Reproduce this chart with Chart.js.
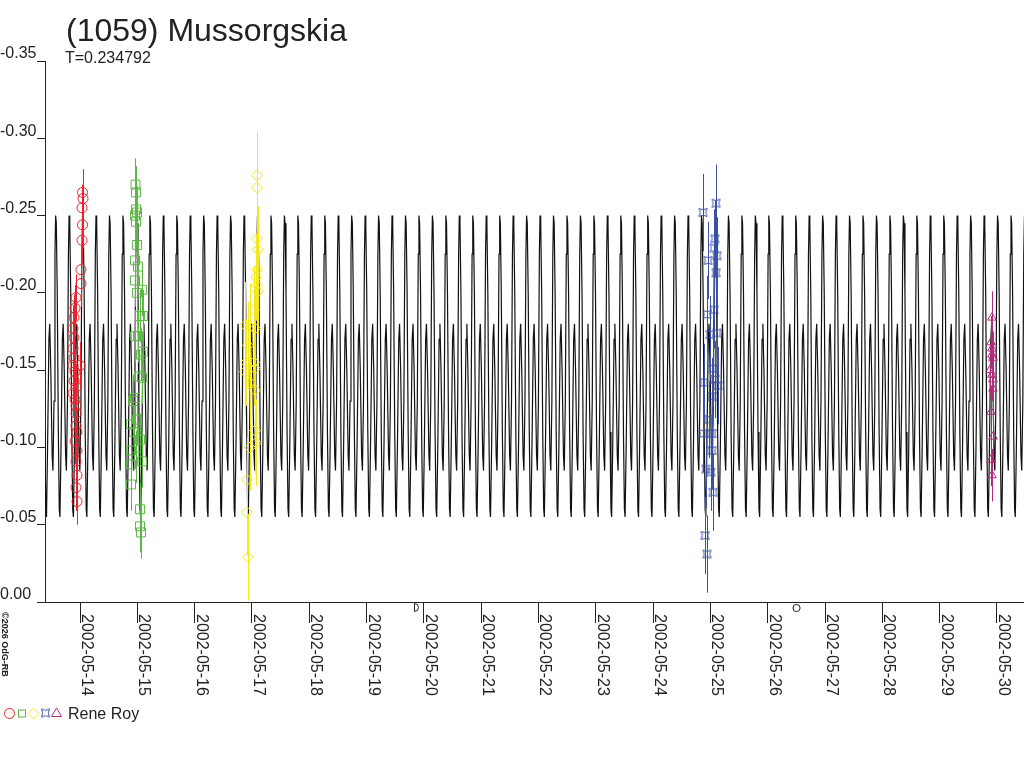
<!DOCTYPE html>
<html>
<head>
<meta charset="utf-8">
<title>(1059) Mussorgskia</title>
<script src="https://cdn.jsdelivr.net/npm/chart.js@4/dist/chart.umd.min.js"></script>
<style>
  html, body { margin: 0; padding: 0; background: #fff; }
  #wrap { width: 1024px; height: 768px; position: relative; }
</style>
</head>
<body>
<div id="wrap"><canvas id="lightcurve" width="1024" height="768"></canvas></div>
<script>
// time axis: days counted from 2002-05-14 0h UT
var dayTicks = [0, 1, 2, 3, 4, 5, 6, 7, 8, 9, 10, 11, 12, 13, 14, 15, 16];
var dateLabels = [
  "2002-05-14", "2002-05-15", "2002-05-16", "2002-05-17", "2002-05-18",
  "2002-05-19", "2002-05-20", "2002-05-21", "2002-05-22", "2002-05-23",
  "2002-05-24", "2002-05-25", "2002-05-26", "2002-05-27", "2002-05-28",
  "2002-05-29", "2002-05-30" ];
var dayMin = -0.611, dayMax = 16.472;

// moon phases (first quarter, full moon)
var moonDays = [5.82, 12.49];
var moonKinds = ["first", "full"];

// fitted curve: one rotation period, phase 0 = primary maximum
var period = 0.234792;
var epochDay = 7.088;
var cyclePhase = [0.00, 0.05, 0.12, 0.20, 0.27, 0.32, 0.40, 0.50, 0.56, 0.64, 0.74, 0.80, 0.88, 0.95];
var cycleMag   = [-0.250, -0.245, -0.200, -0.110, -0.060, -0.055, -0.100, -0.170, -0.180, -0.150, -0.095, -0.085, -0.130, -0.225];

// sessions (Rene Roy)
var redDays = [0.044, 0.052, 0.035, 0.044, 0.035, 0.017, 0.017, -0.070, -0.087, -0.105, -0.122, -0.105, -0.122, -0.105, -0.122, -0.087,
  0.000, -0.105, -0.070, -0.122, -0.087, -0.070, -0.070, -0.070, -0.052, -0.087, -0.052, -0.070, -0.052, -0.070, -0.052];
var redMags = [-0.265, -0.261, -0.255, -0.244, -0.234, -0.215, -0.206, -0.197, -0.190, -0.184, -0.177, -0.171, -0.164, -0.158, -0.153, -0.149,
  -0.153, -0.143, -0.139, -0.135, -0.131, -0.127, -0.122, -0.114, -0.110, -0.104, -0.098, -0.091, -0.082, -0.074, -0.065];

var greenDays = [0.968, 0.977, 0.977, 0.995, 0.960, 0.977, 0.995, 0.960, 1.012, 0.960, 0.995, 1.082, 1.047, 1.099, 0.960, 1.012, 1.064,
  1.099, 1.029, 1.082, 0.960, 0.925, 0.995, 0.890, 0.942, 1.047, 0.890, 0.977, 0.890, 1.082, 0.890, 1.047, 1.047, 1.064];
var greenMags = [-0.270, -0.265, -0.254, -0.252, -0.250, -0.246, -0.231, -0.221, -0.217, -0.208, -0.200, -0.202, -0.185, -0.185, -0.172, -0.172, -0.160,
  -0.162, -0.146, -0.145, -0.132, -0.130, -0.118, -0.115, -0.110, -0.105, -0.098, -0.094, -0.089, -0.091, -0.076, -0.060, -0.049, -0.045];

var yellowDays = [3.088, 3.088, 3.088, 3.106, 3.088, 3.071, 3.088, 3.106, 3.036, 2.879, 2.966, 3.054, 2.931, 2.897, 3.036, 2.879, 3.054,
  2.966, 3.054, 3.054, 2.966, 3.071, 2.914, 2.914, 2.931];
var yellowMags = [-0.276, -0.268, -0.235, -0.228, -0.215, -0.210, -0.205, -0.201, -0.189, -0.179, -0.178, -0.177, -0.166, -0.155, -0.155, -0.149, -0.151,
  -0.142, -0.137, -0.111, -0.100, -0.103, -0.079, -0.058, -0.029];

var blueDays = [11.098, 10.871, 11.080, 11.063, 11.115, 10.958, 11.098, 11.063, 10.940, 10.993, 11.115, 11.045, 11.080, 10.888, 11.132, 11.028,
  10.975, 10.871, 11.028, 11.028, 10.923, 11.010, 11.045, 10.906, 10.940];
var blueMags = [-0.258, -0.252, -0.235, -0.229, -0.224, -0.221, -0.213, -0.189, -0.186, -0.173, -0.174, -0.151, -0.144, -0.142, -0.140, -0.133,
  -0.118, -0.109, -0.109, -0.098, -0.086, -0.084, -0.071, -0.043, -0.031];

var magentaDays = [15.913, 15.896, 15.913, 15.913, 15.931, 15.878, 15.913, 15.931, 15.931, 15.896, 15.931, 15.896, 15.913];
var magentaMags = [-0.184, -0.168, -0.164, -0.160, -0.158, -0.150, -0.147, -0.144, -0.138, -0.123, -0.107, -0.092, -0.082];

var sessionErr = [0.015, 0.017, 0.028, 0.025, 0.017];

var FONT = "'Liberation Sans', Arial, sans-serif";
var INK = "#222222";

function toPoints(days, mags) {
  return days.map(function(d, i) { return { x: d, y: mags[i] }; });
}

// repeat the one-period profile across the plotted time span
function modelPoints() {
  var pts = [];
  var nFirst = Math.floor((dayMin - epochDay) / period) - 1;
  var nLast = Math.ceil((dayMax - epochDay) / period) + 1;
  for (var n = nFirst; n <= nLast; n++) {
    for (var k = 0; k < cyclePhase.length; k++) {
      pts.push({ x: epochDay + (n + cyclePhase[k]) * period, y: cycleMag[k] });
    }
  }
  return pts;
}

function crossedBox(color) {
  var c = document.createElement("canvas");
  c.width = 11; c.height = 11;
  var g = c.getContext("2d");
  g.strokeStyle = color;
  g.lineWidth = 1;
  g.beginPath();
  g.moveTo(1.5, 1.5);
  g.quadraticCurveTo(5.5, 4, 9.5, 1.5);
  g.quadraticCurveTo(7, 5.5, 9.5, 9.5);
  g.quadraticCurveTo(5.5, 7, 1.5, 9.5);
  g.quadraticCurveTo(4, 5.5, 1.5, 1.5);
  g.stroke();
  return c;
}

var colors = ["#e8232b", "#5cb845", "#f4e81c", "#3a52a4", "#b22a7c"];
var blueMark = crossedBox(colors[3]);

function session(days, mags, idx, style, radius) {
  return {
    data: toPoints(days, mags),
    errorSize: sessionErr[idx],
    showLine: false,
    pointStyle: style,
    pointRadius: radius,
    borderColor: colors[idx],
    backgroundColor: "rgba(0,0,0,0)",
    borderWidth: 1
  };
}

var errorBars = {
  id: "errorBars",
  beforeDatasetDraw: function(chart, args) {
    var ds = chart.data.datasets[args.index];
    if (!ds.errorSize) return;
    var ctx = chart.ctx, xs = chart.scales.x, ys = chart.scales.y, area = chart.chartArea;
    ctx.save();
    ctx.beginPath();
    ctx.rect(area.left, area.top, area.right - area.left, area.bottom - area.top);
    ctx.clip();
    ctx.strokeStyle = ds.borderColor;
    ctx.lineWidth = 1;
    ds.data.forEach(function(p) {
      var px = Math.round(xs.getPixelForValue(p.x)) + 0.5;
      ctx.beginPath();
      ctx.moveTo(px, ys.getPixelForValue(p.y - ds.errorSize));
      ctx.lineTo(px, ys.getPixelForValue(p.y + ds.errorSize));
      ctx.stroke();
    });
    ctx.restore();
  }
};

var decorations = {
  id: "decorations",
  afterDraw: function(chart) {
    var ctx = chart.ctx, xs = chart.scales.x;
    ctx.save();
    ctx.fillStyle = INK;
    ctx.strokeStyle = INK;

    // title
    ctx.textAlign = "left";
    ctx.textBaseline = "alphabetic";
    ctx.font = "32px " + FONT;
    ctx.fillText("(1059) Mussorgskia", 66, 41);
    ctx.font = "16px " + FONT;
    ctx.fillText("T=" + period, 65, 63);

    // date labels, rotated clockwise
    dayTicks.forEach(function(d, i) {
      var px = Math.round(xs.getPixelForValue(d));
      ctx.save();
      ctx.translate(px + 1.5, 614);
      ctx.rotate(Math.PI / 2);
      ctx.font = "16px " + FONT;
      ctx.fillText(dateLabels[i], 0, 0);
      ctx.restore();
    });

    // copyright
    ctx.save();
    ctx.translate(1.5, 612);
    ctx.rotate(Math.PI / 2);
    ctx.font = "bold 9px " + FONT;
    ctx.fillText("\u00a92026 OdG-RB", 0, 0);
    ctx.restore();

    // moon phases just under the axis
    ctx.lineWidth = 1;
    moonDays.forEach(function(d, i) {
      var px = Math.round(xs.getPixelForValue(d)) + 0.5;
      ctx.beginPath();
      if (moonKinds[i] === "full") {
        ctx.arc(px, 608, 3.6, 0, Math.PI * 2);
      } else {
        ctx.moveTo(px, 603.5);
        ctx.lineTo(px, 611.5);
        ctx.arc(px, 607.5, 4, Math.PI / 2, -Math.PI / 2, true);
      }
      ctx.stroke();
    });

    // legend
    var ly = 713.5;
    ctx.beginPath();
    ctx.strokeStyle = colors[0];
    ctx.arc(9.5, ly, 5, 0, Math.PI * 2);
    ctx.stroke();
    ctx.strokeStyle = colors[1];
    ctx.strokeRect(18.5, ly - 3.5, 7, 7);
    ctx.beginPath();
    ctx.strokeStyle = colors[2];
    ctx.moveTo(33.5, ly - 5.5); ctx.lineTo(39, ly); ctx.lineTo(33.5, ly + 5.5); ctx.lineTo(28, ly); ctx.closePath();
    ctx.stroke();
    ctx.drawImage(blueMark, 40, ly - 6);
    ctx.beginPath();
    ctx.strokeStyle = colors[4];
    ctx.moveTo(56.5, ly - 5.5); ctx.lineTo(61.5, ly + 3); ctx.lineTo(51.5, ly + 3); ctx.closePath();
    ctx.stroke();
    ctx.fillStyle = INK;
    ctx.font = "16px " + FONT;
    ctx.fillText("Rene Roy", 68, 719);
    ctx.restore();
  }
};

var chart = new Chart(document.getElementById("lightcurve"), {
  type: "scatter",
  data: {
    datasets: [
      session(redDays, redMags, 0, "circle", 5),
      session(greenDays, greenMags, 1, "rect", 6.3),
      session(yellowDays, yellowMags, 2, "rectRot", 5.5),
      session(blueDays, blueMags, 3, blueMark, 5),
      session(magentaDays, magentaMags, 4, "triangle", 5),
      {
        data: modelPoints(),
        showLine: true,
        borderColor: "#111111",
        borderWidth: 1.2,
        pointRadius: 0,
        tension: 0
      }
    ]
  },
  plugins: [errorBars, decorations],
  options: {
    responsive: false,
    animation: false,
    events: [],
    layout: { autoPadding: false, padding: { top: 61, left: 0, right: 0, bottom: 0 } },
    plugins: {
      legend: { display: false },
      tooltip: { enabled: false },
      title: { display: false }
    },
    scales: {
      x: {
        type: "linear",
        min: dayMin,
        max: dayMax,
        afterBuildTicks: function(scale) {
          scale.ticks = dayTicks.map(function(d) { return { value: d }; });
        },
        afterFit: function(scale) { scale.height = 166; },
        ticks: { display: false },
        grid: { drawOnChartArea: false, drawTicks: true, tickLength: 21, color: INK },
        border: { color: INK }
      },
      y: {
        reverse: true,
        min: -0.35,
        max: 0,
        afterFit: function(scale) { scale.width = 45; },
        ticks: {
          stepSize: 0.05,
          crossAlign: "far",
          labelOffset: -7,
          color: INK,
          font: { family: FONT, size: 16 },
          callback: function(v) { return Math.abs(v) < 1e-9 ? "0.00" : v.toFixed(2); }
        },
        grid: { drawOnChartArea: false, drawTicks: true, tickLength: 8, color: INK },
        border: { color: INK }
      }
    }
  }
});
</script>
</body>
</html>
